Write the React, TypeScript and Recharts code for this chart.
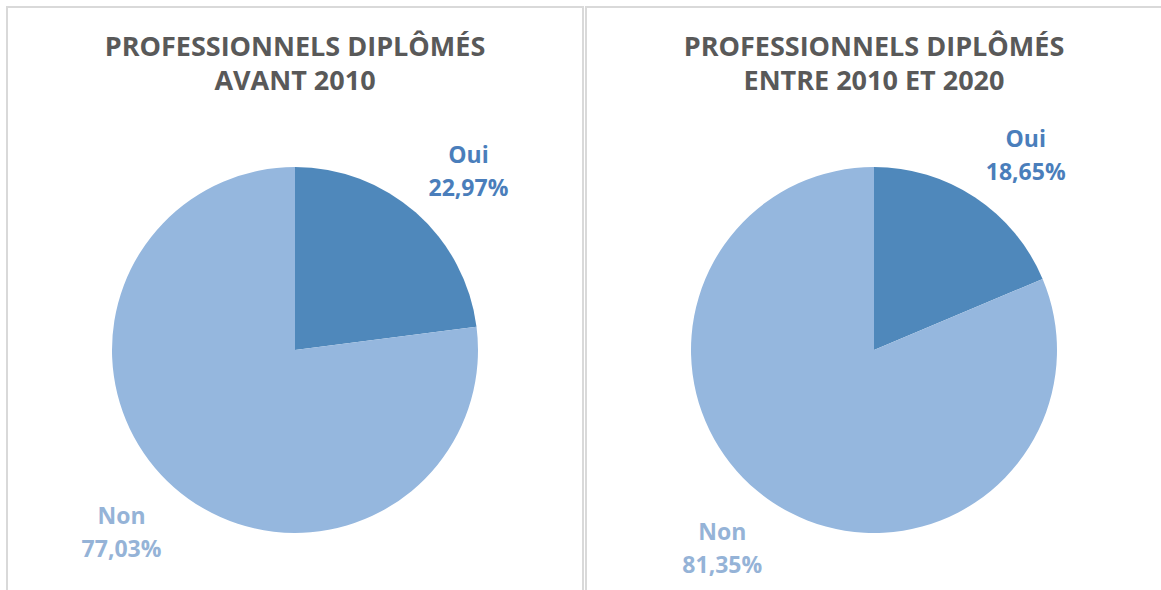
import React from 'react';
import { PieChart, Pie, Cell } from 'recharts';

const CATEGORIES = ['Oui', 'Non'];
const AVANT_2010 = [22.97, 77.03];
const ENTRE_2010_2020 = [18.65, 81.35];
const TITLES = [
  ['PROFESSIONNELS DIPLÔMÉS', 'AVANT 2010'],
  ['PROFESSIONNELS DIPLÔMÉS', 'ENTRE 2010 ET 2020'],
];

const SLICE_COLORS = ['#4F88BB', '#95B7DE'];
const LABEL_COLORS = ['#4A7EBB', '#95B3D7'];
const FONT = '"Open Sans", "Noto Sans", sans-serif';
const RADIAN = Math.PI / 180;

const toRows = (values: number[]) =>
  CATEGORIES.map((name, i) => ({ name, value: values[i] }));

const fmt = (v: number) => v.toFixed(2).replace('.', ',') + '%';

// Excel-like "best fit" label: box corner sits just outside the slice edge
const renderLabel = (props: any) => {
  const { cx, cy, midAngle, outerRadius, name, value, index } = props;
  const cos = Math.cos(-midAngle * RADIAN);
  const sin = Math.sin(-midAngle * RADIAN);
  const r = outerRadius + 19;
  const ax = cx + r * cos;
  const ay = cy + r * sin;
  const boxW = 80;
  const boxH = 57;
  const left = cos >= 0 ? ax : ax - boxW;
  const top = sin <= 0 ? ay - boxH : ay;
  const x = left + boxW / 2;
  const color = LABEL_COLORS[index % LABEL_COLORS.length];
  return (
    <text
      x={x}
      y={top}
      fill={color}
      textAnchor="middle"
      fontFamily={FONT}
      fontWeight={700}
      fontSize={23}
    >
      <tspan x={x} dy={22}>{name}</tspan>
      <tspan x={x} dy={33}>{fmt(value)}</tspan>
    </text>
  );
};

const panelStyle = (left: number): React.CSSProperties => ({
  position: 'absolute',
  left,
  top: 6,
  width: 574,
  height: 600,
  borderTop: '2px solid #D9D9D9',
  borderLeft: '2px solid #D9D9D9',
  borderRight: '2px solid #D9D9D9',
});

const titleStyle = (center: number): React.CSSProperties => ({
  position: 'absolute',
  left: center - 290,
  width: 580,
  top: 29,
  textAlign: 'center',
  fontFamily: FONT,
  fontWeight: 700,
  fontSize: 27,
  lineHeight: '34px',
  color: '#595959',
});

const App: React.FC = () => {
  const datasets = [toRows(AVANT_2010), toRows(ENTRE_2010_2020)];
  const centers = [295, 874];

  return (
    <div
      style={{
        position: 'absolute',
        left: 0,
        top: 0,
        width: 1161,
        height: 590,
        overflow: 'hidden',
        background: '#fff',
      }}
    >
      <style>{`.recharts-pie-sectors { filter: drop-shadow(2px 3px 3px rgba(0,0,0,0.18)); }`}</style>
      <div style={panelStyle(6)} />
      <div style={panelStyle(585)} />
      {TITLES.map((lines, i) => (
        <div key={`t-${i}`} style={titleStyle(centers[i])}>
          {lines.map((l, j) => (
            <div key={j}>{l}</div>
          ))}
        </div>
      ))}
      <div style={{ position: 'absolute', left: 0, top: 0 }}>
        <PieChart width={1161} height={590} margin={{ top: 0, right: 0, bottom: 0, left: 0 }}>
          {datasets.map((data, i) => (
            <Pie
              key={`pie-${i}`}
              data={data}
              dataKey="value"
              nameKey="name"
              cx={centers[i]}
              cy={350}
              outerRadius={183}
              startAngle={90}
              endAngle={-270}
              stroke="none"
              labelLine={false}
              label={renderLabel}
              isAnimationActive={false}
            >
              {data.map((entry, index) => (
                <Cell key={`cell-${index}`} fill={SLICE_COLORS[index % SLICE_COLORS.length]} />
              ))}
            </Pie>
          ))}
        </PieChart>
      </div>
    </div>
  );
};

export default App;
